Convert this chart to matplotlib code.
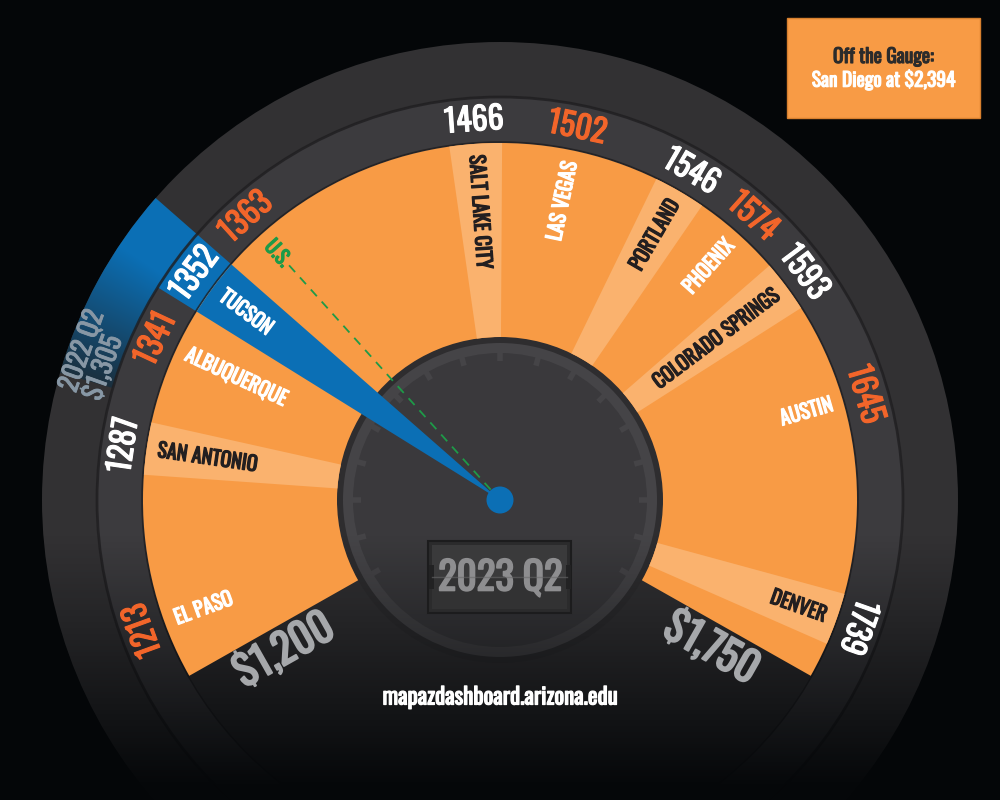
import numpy as np
import matplotlib
matplotlib.use('Agg')
import matplotlib.pyplot as plt
import matplotlib.patheffects as pe
from matplotlib.patches import Wedge, Circle, Rectangle
from matplotlib.colors import to_rgb
from matplotlib import font_manager as fm

# data (median rent, 2023 Q2)
cities = ['EL PASO', 'SAN ANTONIO', 'ALBUQUERQUE', 'TUCSON', 'U.S.', 'SALT LAKE CITY',
          'LAS VEGAS', 'PORTLAND', 'PHOENIX', 'COLORADO SPRINGS', 'AUSTIN', 'DENVER']
rents = [1213, 1287, 1341, 1352, 1363, 1466, 1502, 1546, 1574, 1593, 1645, 1739]
highlight = 'TUCSON'
benchmark = 'U.S.'
quarter = '2023 Q2'
prev_quarter = '2022 Q2'
prev_rent = 1305
gauge_min, gauge_max = 1200, 1750
off_city, off_rent = 'San Diego', 2394
source = 'mapazdashboard.arizona.edu'

# colours
BG = '#040608'
DISK = '#323133'
RING = '#3c3b3e'
ORANGE = '#f89b45'
LIGHT = '#fab26e'
BLUE = '#0b6fb5'
GREEN = '#1e9a48'
NUM_ORANGE = '#f2652a'
DARK_TXT = '#231f20'
GRAY = '#a6a8ab'

avail = {f.name for f in fm.fontManager.ttflist}
FONT = 'DejaVu Sans'
for cand in ['Oswald', 'Roboto Condensed', 'Liberation Sans Narrow', 'Open Sans Condensed']:
    if cand in avail:
        FONT = cand
        break
plt.rcParams['font.family'] = [FONT, 'DejaVu Sans']
plt.rcParams['font.stretch'] = 'condensed'


def heavy(color, w=0.9):
    # thicken the condensed face a little
    return [pe.withStroke(linewidth=w, foreground=color)]


cx, cy = 500, 300
A0, A1 = 209.5, -29.5          # angle of gauge_min / gauge_max
R_IN, R_OUT = 163, 357
R_RING, R_DISK = 403, 458


def ang(v):
    return A0 - (v - gauge_min) / (gauge_max - gauge_min) * (A0 - A1)


def spread(a, gap=11.5, hi=A0 - 9.5, lo=A1 + 10):
    # push labels apart so they don't overlap on the ring
    a = list(a)
    for _ in range(300):
        for i in range(len(a) - 1):
            d = a[i] - a[i + 1]
            if d < gap:
                p = (gap - d) / 2
                a[i] += p
                a[i + 1] -= p
        a = [min(max(x, lo), hi) for x in a]
    return a


def pt(r, a):
    t = np.radians(a)
    return cx + r * np.cos(t), cy + r * np.sin(t)


angles = spread([ang(v) for v in rents])
hl = cities.index(highlight)
a_hl = angles[hl]
HW = 4.7   # needle half width (deg)

fig = plt.figure(figsize=(10, 8), dpi=100, facecolor=BG)
ax = fig.add_axes([0, 0, 1, 1])
ax.set_facecolor(BG)
ax.axis('off')

# outer disk and ring
ax.add_patch(Circle((cx, cy), R_DISK, fc=DISK, ec='none', zorder=1))
ax.add_patch(Wedge((cx, cy), R_RING, 0, 360, width=R_RING - R_OUT, fc=RING, ec='none', zorder=2))

# previous-quarter band (blue gradient) in the outer disk
a_s, a_e = a_hl - HW, ang(prev_rent)
band = Wedge((cx, cy), R_DISK, a_s, a_e, width=R_DISK - R_RING, transform=ax.transData)
xs = np.linspace(20, 240, 220)
ys = np.linspace(360, 640, 280)
X, Y = np.meshgrid(xs, ys)
T = np.degrees(np.arctan2(Y - cy, X - cx))
t = np.clip((T - a_s) / (a_e - a_s), 0, 1)
w = np.clip((t - 0.3) / 0.7, 0, 1)[..., None]
img = np.array(to_rgb(BLUE)) * (1 - w) + np.array(to_rgb('#1b2f3d')) * w
im = ax.imshow(img, extent=(20, 240, 360, 640), origin='lower', zorder=2.2,
               interpolation='bilinear')
im.set_clip_path(band)

# needle section of the ring
ax.add_patch(Wedge((cx, cy), R_RING, a_hl - HW, a_hl + HW, width=R_RING - R_OUT,
                   fc=BLUE, ec='none', zorder=2.3))
for r, lw in [(R_RING, 2), (R_OUT + 1, 1.2)]:
    ax.add_patch(Circle((cx, cy), r, fill=False, ec='#1f1e20', lw=lw, alpha=0.8, zorder=2.5))

# inner dial
ax.add_patch(Circle((cx, cy), R_IN, fc='#2e2d2f', ec='none', zorder=3))
ax.add_patch(Circle((cx, cy), 157, fc='#454447', ec='none', zorder=3.05))
ax.add_patch(Circle((cx, cy), 147, fc='#3a393c', ec='none', zorder=3.1))
for a in np.arange(-30, 211, 15):
    x0, y0 = pt(139, a)
    x1, y1 = pt(148, a)
    ax.plot([x0, x1], [y0, y1], color='#454447', lw=4, solid_capstyle='butt', zorder=3.15)

# bottom fade
yy = np.linspace(0, 800, 400)
fade = np.zeros((400, 1, 4))
fade[..., :3] = to_rgb(BG)
fade[..., 3] = (np.clip((265 - yy) / 250, 0, 1) ** 1.1 * 0.97)[:, None]
ax.imshow(fade, extent=(0, 1000, 0, 800), origin='lower', aspect='auto', zorder=3.5)

# orange gauge with alternating slots
ax.add_patch(Wedge((cx, cy), R_OUT, A1, A0, width=R_OUT - R_IN, fc=ORANGE, ec='none', zorder=4))
for i, (c, a) in enumerate(zip(cities, angles)):
    if i % 2 == 1 and c != highlight:
        ax.add_patch(Wedge((cx, cy), R_OUT, a - 4.25, a + 4.25, width=R_OUT - R_IN,
                           fc=LIGHT, ec='none', zorder=4.1))

# needle, benchmark line, hub
ax.add_patch(Wedge((cx, cy), R_OUT, a_hl - HW, a_hl + HW, fc=BLUE, ec='none', zorder=6))
a_us = angles[cities.index(benchmark)]
p0, p1 = pt(14, a_us), pt(318, a_us)
ax.plot([p0[0], p1[0]], [p0[1], p1[1]], color=GREEN, lw=1.3, ls=(0, (5, 4)), zorder=6.2)
ax.add_patch(Circle((cx, cy), 13.5, fc=BLUE, ec='none', zorder=6.5))

# value labels on the ring, city labels in the slots
for i, (c, v, a) in enumerate(zip(cities, rents, angles)):
    x, y = pt(380, a)
    col = NUM_ORANGE if i % 2 == 0 else 'white'
    ax.text(x, y, str(v), rotation=a - 90, rotation_mode='anchor', ha='center', va='center',
            fontsize=23, color=col, path_effects=heavy(col, 0.8), zorder=8)
    if c == benchmark:
        col = GREEN
    elif i % 2 == 0 or c == highlight:
        col = 'white'
    else:
        col = DARK_TXT
    x, y = pt(346, a)
    if a > 90:
        ax.text(x, y, c, rotation=a - 180, rotation_mode='anchor', ha='left', va='center',
                fontsize=14.5, color=col, path_effects=heavy(col, 0.9), zorder=8)
    else:
        ax.text(x, y, c, rotation=a, rotation_mode='anchor', ha='right', va='center',
                fontsize=14.5, color=col, path_effects=heavy(col, 0.9), zorder=8)

# previous quarter label
a_p = ang(prev_rent) - 3.5
x, y = pt(431, a_p)
ax.text(x, y, f'{prev_quarter}\n${prev_rent:,}', rotation=a_p - 90, rotation_mode='anchor',
        ha='center', va='center', multialignment='left', linespacing=0.9,
        fontsize=19, color='#8797a5', path_effects=heavy('#8797a5', 0.6), zorder=8)

# gauge end labels
x, y = pt(263, A0 + 5.3)
ax.text(x, y, f'${gauge_min:,}', rotation=A0 - 180, rotation_mode='anchor', ha='center',
        va='center', fontsize=30, color=GRAY, path_effects=heavy(GRAY, 1.4), zorder=8)
x, y = pt(258, A1 - 5.5)
ax.text(x, y, f'${gauge_max:,}', rotation=A1, rotation_mode='anchor', ha='center',
        va='center', fontsize=30, color=GRAY, path_effects=heavy(GRAY, 1.4), zorder=8)

# quarter counter
ax.add_patch(Rectangle((428, 187), 143, 72, fc='#2b2b2c', ec='#1c1c1d', lw=1.5, zorder=7))
ax.add_patch(Rectangle((432, 191), 135, 32, fc='#323233', ec='none', zorder=7.1))
ax.add_patch(Rectangle((432, 223), 135, 32, fc='#3a3a3b', ec='none', zorder=7.1))
ax.add_patch(Rectangle((429, 211), 5, 24, fc='#222223', ec='none', zorder=7.2))
ax.add_patch(Rectangle((566, 211), 5, 24, fc='#222223', ec='none', zorder=7.2))
ax.text(500, 222, quarter, ha='center', va='center', fontsize=28, color='#8e8e90',
        path_effects=heavy('#8e8e90', 1.2), zorder=7.5)
ax.plot([432, 567], [223, 223], color='#6a6a6b', lw=1, alpha=0.6, zorder=7.6)

# off-the-gauge note
ax.add_patch(Rectangle((787, 682), 193, 100, fc=ORANGE, ec='#d8802e', lw=1, zorder=8))
ax.text(883.5, 744, 'Off the Gauge:', ha='center', va='center', fontsize=14,
        color='#2b2b2b', path_effects=heavy('#2b2b2b', 0.8), zorder=9)
ax.text(883.5, 721, f'{off_city} at ${off_rent:,}', ha='center', va='center', fontsize=14,
        color='white', path_effects=heavy('white', 0.8), zorder=9)

ax.text(500, 103, source, ha='center', va='center', fontsize=16.5, color='white',
        path_effects=heavy('white', 0.9), zorder=9)

ax.set_xlim(0, 1000)
ax.set_ylim(0, 800)
ax.set_aspect('equal')
fig.savefig('out.png', dpi=100, facecolor=BG)
